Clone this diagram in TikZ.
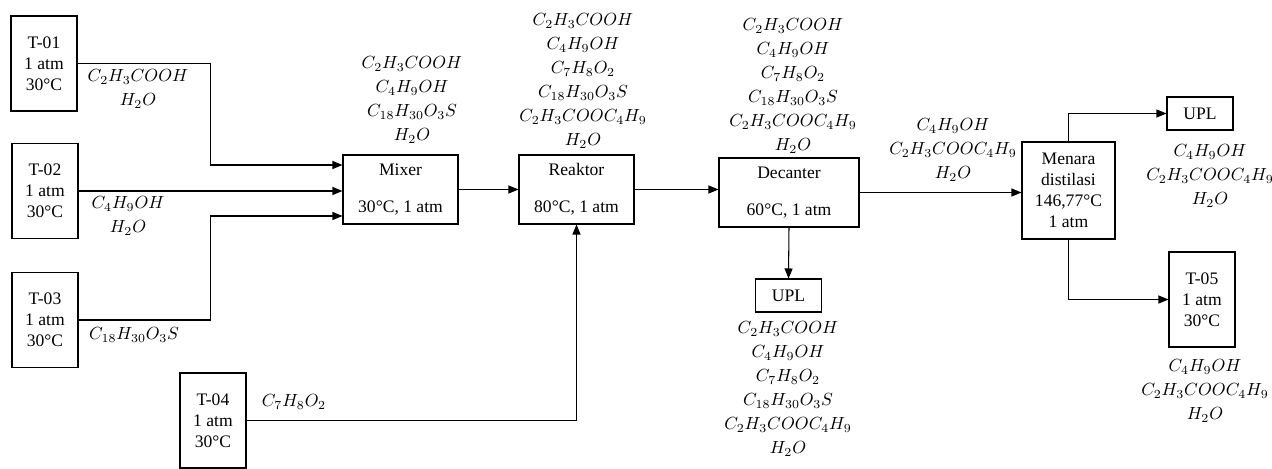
\documentclass[tikz,border=0pt]{standalone}
\usepackage{fontspec}
\setmainfont{Liberation Serif}
\usepackage{tikz}
\usetikzlibrary{positioning}
\usetikzlibrary{arrows.meta}

\begin{document}
\begin{tikzpicture}[x=0.02cm, y=-0.02cm,
		tank/.style={draw, rectangle, line width=0.6pt, minimum width=1.32cm, minimum height=1.9cm, align=center},
		unit/.style={draw, rectangle, line width=0.6pt, minimum height=1.38cm, align=center},
		upl/.style={draw, rectangle, line width=0.6pt, minimum width=1.32cm, minimum height=0.66cm},
		chem/.style={align=center, font=\fontsize{10}{13.6}\selectfont},
		flow/.style={-{Triangle[length=2mm, width=1.6mm]}, line width=0.6pt}]
			\useasboundingbox (0,0) rectangle (1272,469);

			\node[tank] (t01) at (44,63.5) {T-01\\1 atm\\30°C};
			\node[tank] (t02) at (45,191) {T-02\\1 atm\\30°C};
			\node[tank] (t03) at (45,320) {T-03\\1 atm\\30°C};
			\node[tank] (t04) at (213,420.5) {T-04\\1 atm\\30°C};
			\node[unit, minimum width=2.3cm] (mixer) at (400.5,189.5) {Mixer\\[9pt]30°C, 1 atm};
			\node[unit, minimum width=2.3cm] (reaktor) at (576.5,189.5) {Reaktor\\[9pt]80°C, 1 atm};
			\node[unit, minimum width=2.8cm] (decanter) at (789,192.5) {Decanter\\[9pt]60°C, 1 atm};
			\node[unit, minimum width=1.86cm, minimum height=1.94cm] (menara) at (1068.5,190.5) {Menara\\distilasi\\146,77°C\\1 atm};
			\node[upl] (upldec) at (788.5,295.5) {UPL};
			\node[upl] (uplmd) at (1200,113.5) {UPL};
			\node[tank] (t05) at (1202,299.5) {T-05\\1 atm\\30°C};

			\node[chem] (lt01) at (138,89) {$C_2H_3COOH$\\$H_2O$};
			\node[chem] (lt02) at (128,216) {$C_4H_9OH$\\$H_2O$};
			\node[chem] (lt03) at (134,335) {$C_{18}H_{30}O_3S$};
			\node[chem] (lt04) at (294,402) {$C_7H_8O_2$};
			\node[chem] (lmixer) at (412,100) {$C_2H_3COOH$\\$C_4H_9OH$\\$C_{18}H_{30}O_3S$\\$H_2O$};
			\node[chem] (lreaktor) at (583,81) {$C_2H_3COOH$\\$C_4H_9OH$\\$C_7H_8O_2$\\$C_{18}H_{30}O_3S$\\$C_2H_3COOC_4H_9$\\$H_2O$};
			\node[chem] (ldecanter) at (793,86) {$C_2H_3COOH$\\$C_4H_9OH$\\$C_7H_8O_2$\\$C_{18}H_{30}O_3S$\\$C_2H_3COOC_4H_9$\\$H_2O$};
			\node[chem] (lmenara) at (953,150) {$C_4H_9OH$\\$C_2H_3COOC_4H_9$\\$H_2O$};
			\node[chem] (luplmd) at (1210,176) {$C_4H_9OH$\\$C_2H_3COOC_4H_9$\\$H_2O$};
			\node[chem] (lt05) at (1205,391) {$C_4H_9OH$\\$C_2H_3COOC_4H_9$\\$H_2O$};
			\node[chem] (lupldec) at (788,389) {$C_2H_3COOH$\\$C_4H_9OH$\\$C_7H_8O_2$\\$C_{18}H_{30}O_3S$\\$C_2H_3COOC_4H_9$\\$H_2O$};

			\draw[flow] (t01.east) -- ++(133,0) |- ([yshift=0.49cm]mixer.west);
			\draw[flow] (t02.east) -- (t02.east -| mixer.west);
			\draw[flow] (t03.east) -- ++(132,0) |- ([yshift=-0.53cm]mixer.west);
			\draw[flow] (mixer) -- (reaktor);
			\draw[flow] (t04.east) -| (reaktor.south);
			\draw[flow] (reaktor.east) -- (reaktor.east -| decanter.west);
			\draw[flow] (decanter.east) -- (decanter.east -| menara.west);
			\draw[flow] (decanter.south) -- (upldec.north);
			\draw[flow] (menara.north) |- (uplmd.west);
			\draw[flow] (menara.south) |- (t05.west);
		\end{tikzpicture}
\end{document}
